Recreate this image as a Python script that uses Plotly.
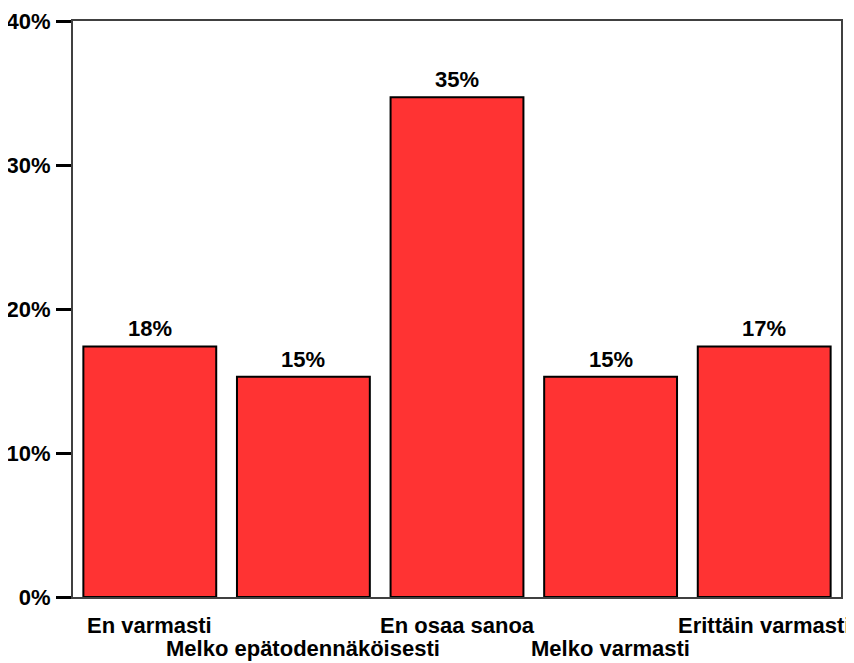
import plotly.graph_objects as go

categories = ["En varmasti", "Melko epätodennäköisesti", "En osaa sanoa", "Melko varmasti", "Erittäin varmasti"]
values = [17.4, 15.3, 34.7, 15.3, 17.4]
value_labels = ["18%", "15%", "35%", "15%", "17%"]
y_ticks = [0, 10, 20, 30, 40]
y_tick_labels = ["0%", "10%", "20%", "30%", "40%"]

FONT = "Liberation Sans, Arial, sans-serif"

fig = go.Figure()
fig.add_trace(go.Bar(
    x=list(range(len(categories))),
    y=values,
    marker=dict(color="#FF3333", line=dict(color="#000000", width=2)),
    width=0.865,
    hoverinfo="skip",
))

annotations = []
for i, (v, lab) in enumerate(zip(values, value_labels)):
    annotations.append(dict(
        x=i, y=v, xref="x", yref="y", text=lab, showarrow=False,
        yanchor="bottom", yshift=3,
        font=dict(family=FONT, size=22, color="#000000", weight="bold"),
    ))
for i, c in enumerate(categories):
    annotations.append(dict(
        x=i, y=0, xref="x", yref="paper", text=c, showarrow=False,
        yanchor="top", yshift=-15 if i % 2 == 0 else -38,
        borderpad=0,
        font=dict(family=FONT, size=22, color="#000000", weight="bold"),
    ))

fig.update_layout(
    width=854, height=663,
    margin=dict(l=65, r=21, t=13, b=74),
    paper_bgcolor="white", plot_bgcolor="white",
    showlegend=False,
    annotations=annotations,
    xaxis=dict(
        range=[-0.5, len(categories) - 0.5], automargin=False,
        showticklabels=False, ticks="", showgrid=False, zeroline=False,
        showline=True, linecolor="#404040", linewidth=2, mirror=True,
    ),
    yaxis=dict(
        range=[0, 40], automargin=False,
        tickvals=y_ticks, ticktext=y_tick_labels,
        ticks="outside", ticklen=15, tickwidth=3, tickcolor="#000000",
        ticklabelstandoff=1,
        tickfont=dict(family=FONT, size=22, color="#000000", weight="bold"),
        showgrid=False, zeroline=False,
        showline=True, linecolor="#404040", linewidth=2, mirror=True,
    ),
)

fig.write_html("out.html")
